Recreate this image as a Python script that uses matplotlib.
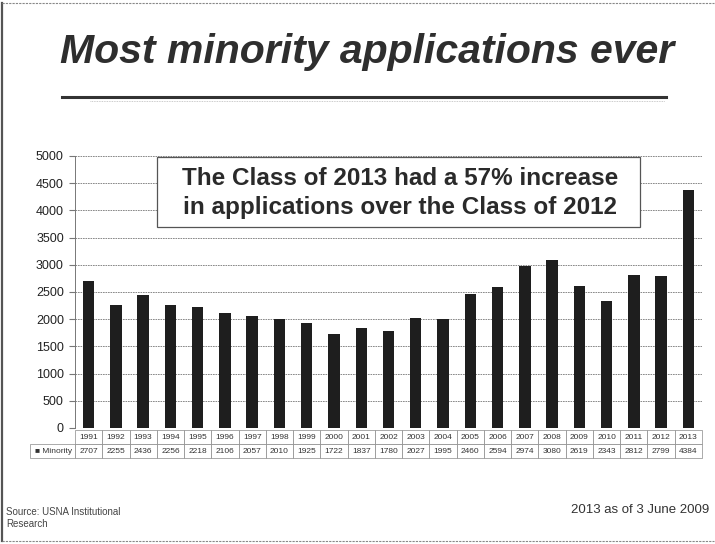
import matplotlib
matplotlib.use("Agg")
import matplotlib.pyplot as plt
from matplotlib.lines import Line2D
from matplotlib.patches import Rectangle
from matplotlib import font_manager as fm

years = ["1991", "1992", "1993", "1994", "1995", "1996", "1997", "1998", "1999", "2000",
         "2001", "2002", "2003", "2004", "2005", "2006", "2007", "2008", "2009", "2010",
         "2011", "2012", "2013"]
minority = [2707, 2255, 2436, 2256, 2218, 2106, 2057, 2010, 1925, 1722,
            1837, 1780, 2027, 1995, 2460, 2594, 2974, 3080, 2619, 2343,
            2812, 2799, 4384]
yticks = [0, 500, 1000, 1500, 2000, 2500, 3000, 3500, 4000, 4500, 5000]
series_label = "Minority"

plt.rcParams['font.family'] = ['Liberation Sans', 'DejaVu Sans']


def lib_font(weight, style):
    for f in fm.fontManager.ttflist:
        if (f.name == "Liberation Sans" and "Narrow" not in f.fname
                and f.weight in (weight,) and f.style == style):
            return fm.FontProperties(fname=f.fname)
    return fm.FontProperties(family="Liberation Sans", weight=weight, style=style)


W, H = 715, 544
fig = plt.figure(figsize=(W / 100, H / 100), dpi=100)
fig.patch.set_facecolor("white")


def fx(px):
    return px / W


def fy(py):
    return 1 - py / H


# slide frame lines
fig.add_artist(Line2D([fx(2), fx(2)], [fy(3), fy(541)], color="#555555", lw=1.6))
fig.add_artist(Line2D([fx(2), fx(714)], [fy(3), fy(3)], color="#888888", lw=0.8, ls=(0, (2, 1))))
fig.add_artist(Line2D([fx(2), fx(714)], [fy(541), fy(541)], color="#888888", lw=0.8, ls=(0, (2, 1))))

# title
tp = lib_font(700, "italic")
tp.set_size(29.5)
fig.text(fx(367), fy(63), "Most minority applications ever", ha="center", va="baseline",
         fontproperties=tp, color="#2e2e2e")
fig.add_artist(Line2D([fx(62), fx(666)], [fy(97), fy(97)], color="#333333", lw=2.2))
fig.add_artist(Line2D([fx(90), fx(665)], [fy(101), fy(101)], color="#bbbbbb", lw=0.6, ls=(0, (1, 1))))

# axes
left, right, top, bottom = 75, 702, 156, 428
ax = fig.add_axes([fx(left), fy(bottom), fx(right) - fx(left), fy(top) - fy(bottom)])
x = range(len(years))
ax.bar(x, minority, width=0.42, color="#1e1e1e", zorder=3)
ax.set_xlim(-0.5, len(years) - 0.5)
ax.set_ylim(0, 5000)
ax.set_yticks(yticks)
ax.set_yticklabels([str(t) for t in yticks], fontsize=9, color="#222222")
ax.set_xticks([])
ax.grid(axis="y", color="#777777", lw=0.6, ls=(0, (2, 1)), zorder=0)
for s in ["top", "right", "bottom"]:
    ax.spines[s].set_visible(False)
ax.spines["left"].set_color("#777777")
ax.spines["left"].set_linewidth(0.7)
ax.tick_params(axis="y", length=4, color="#777777", pad=4)

# annotation box
bx0 = (157 - left) / (right - left)
bx1 = (640 - left) / (right - left)
by0 = 1 - (227 - top) / (bottom - top)
by1 = 1 - (157 - top) / (bottom - top)
ax.add_patch(Rectangle((bx0, by0), bx1 - bx0, by1 - by0, transform=ax.transAxes,
                       fc="white", ec="#555555", lw=0.9, zorder=4))
ap = lib_font(700, "normal")
ap.set_size(17.5)
ax.text(0.518, 1 - (193 - top) / (bottom - top),
        "The Class of 2013 had a 57% increase\nin applications over the Class of 2012",
        transform=ax.transAxes, ha="center", va="center", fontproperties=ap,
        color="#2a2a2a", linespacing=1.3, zorder=5)

# data table
tab = ax.table(cellText=[[str(v) for v in minority]], colLabels=years,
               rowLabels=["\u25a0 " + series_label], cellLoc="center", rowLoc="left",
               bbox=[0, -0.112, 1, 0.105])
tab.auto_set_font_size(False)
tab.set_fontsize(6)
for (r, c), cell in tab.get_celld().items():
    cell.set_edgecolor("#888888")
    cell.set_linewidth(0.5)
    cell.get_text().set_color("#333333")
    if c == -1:
        cell.set_width(fx(52) / (fx(right) - fx(left)))

# footer
fig.text(fx(6), fy(518), "Source: USNA Institutional\nResearch", ha="left", va="center",
         fontsize=7, color="#444444", linespacing=1.3)
fig.text(fx(709), fy(510), "2013 as of 3 June 2009", ha="right", va="center",
         fontsize=9.5, color="#333333")

fig.savefig("out.png", dpi=100, facecolor="white")
